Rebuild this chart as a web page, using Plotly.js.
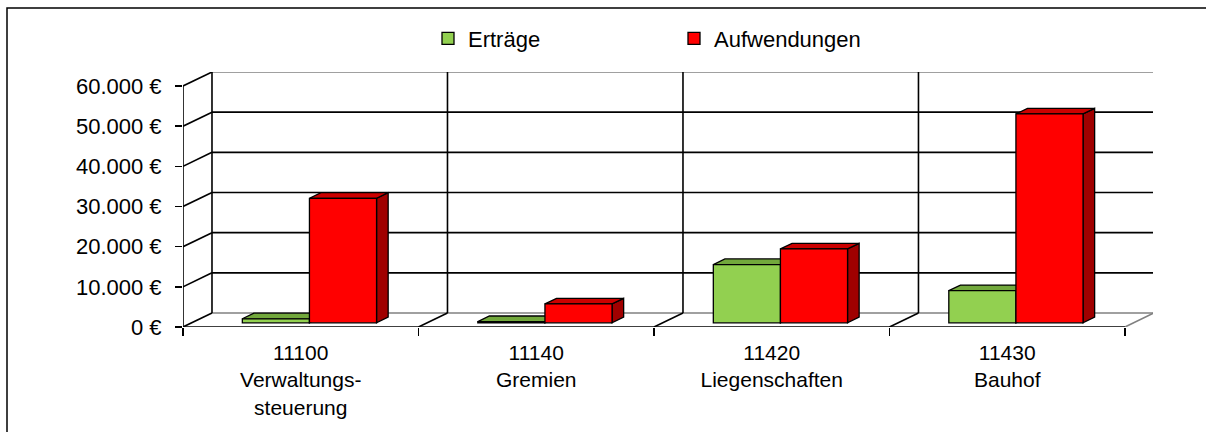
<!DOCTYPE html>
<html>
<head>
<meta charset="utf-8">
<script src="https://cdn.plot.ly/plotly-3.0.1.min.js"></script>
<style>html,body{margin:0;padding:0;background:#fff;}#chart{width:1206px;height:432px;}</style>
</head>
<body>
<div id="chart"></div>
<script>
// ---- data ----
const categories = ['11100<br>Verwaltungs-<br>steuerung', '11140<br>Gremien', '11420<br>Liegenschaften', '11430<br>Bauhof'];
const seriesNames = ['Erträge', 'Aufwendungen'];
const ertraege = [1000, 300, 14500, 8000];
const aufwendungen = [31000, 4700, 18400, 52000];
const yTickValues = [0, 10000, 20000, 30000, 40000, 50000, 60000];
const yTickLabels = ['0 €', '10.000 €', '20.000 €', '30.000 €', '40.000 €', '50.000 €', '60.000 €'];

// ---- geometry / style (not data) ----
const FONT = 'Liberation Sans, Arial, sans-serif';
const DX = 0.1231;      // floor depth in x units
const DY = 3486;        // floor depth in y units
const BAR_FRONT = 0.3;  // fraction of depth where bar front faces sit
const BAR_DEPTH = 0.4;  // fraction of depth taken by the bars
const BARGAP = 0.43;
const XMIN = -0.5, XMAX = 3.619, YMAX = 63486;
const n = categories.length;
const idx = categories.map((_, i) => i);
const colors = {
  front: ['#92D050', '#FF0000'],
  top: ['#72A83C', '#CC0000'],
  side: ['#5E8C2E', '#A00000']
};

const shapes = [];
function line(x0, y0, x1, y1, color, width) {
  shapes.push({type: 'line', xref: 'x', yref: 'y', x0, y0, x1, y1,
    line: {color, width}, layer: 'below'});
}
const GREY = '#808080', BLACK = '#000000';
const gMax = yTickValues[yTickValues.length - 1];
// back wall horizontal lines and left wall diagonals
yTickValues.forEach(v => {
  const c = (v === 0 || v === gMax) ? GREY : BLACK;
  line(XMIN + DX, v + DY, 3.5 + DX, v + DY, c, 1.6);
  line(XMIN, v, XMIN + DX, v + DY, BLACK, 1.6);
});
// back-left vertical edge, front axis line
line(XMIN + DX, DY, XMIN + DX, gMax + DY, BLACK, 1.6);
line(XMIN, 0, XMIN, gMax, BLACK, 1.6);
// category dividers on back wall and floor
for (let b = 0.5; b < n - 0.5; b += 1) {
  line(b + DX, DY, b + DX, gMax + DY, BLACK, 1.6);
  line(b, 0, b + DX, DY, BLACK, 1.6);
}
// right edges
line(3.5 + DX, DY, 3.5 + DX, gMax + DY, GREY, 1.6);
line(3.5, 0, 3.5 + DX, DY, GREY, 1.6);
// front floor edge
line(XMIN, 0, 3.5, 0, BLACK, 1.6);

// bar 3D faces (top and side), computed from data in the bar axes
const bw = (1 - BARGAP) / 2;
const ddx = BAR_DEPTH * DX, ddy = BAR_DEPTH * DY;
[ertraege, aufwendungen].forEach((vals, s) => {
  vals.forEach((v, i) => {
    const xl = idx[i] - bw + s * bw, xr = xl + bw;
    shapes.push({type: 'path', xref: 'x2', yref: 'y2', layer: 'below',
      path: `M${xr},0 L${xr},${v} L${xr + ddx},${v + ddy} L${xr + ddx},${ddy} Z`,
      fillcolor: colors.side[s], line: {color: BLACK, width: 1.3}});
    shapes.push({type: 'path', xref: 'x2', yref: 'y2', layer: 'below',
      path: `M${xl},${v} L${xr},${v} L${xr + ddx},${v + ddy} L${xl + ddx},${v + ddy} Z`,
      fillcolor: colors.top[s], line: {color: BLACK, width: 1.3}});
  });
});

// outer border (paper)
const L = 183, R = 53, T = 72, B = 105;
const PW = 1206 - L - R, PH = 432 - T - B;
shapes.push({type: 'rect', xref: 'paper', yref: 'paper',
  x0: (7 - L) / PW, x1: (1300 - L) / PW, y0: (PH + T - 500) / PH, y1: (PH + T - 8) / PH,
  line: {color: BLACK, width: 1.5}, fillcolor: 'rgba(0,0,0,0)', layer: 'below'});

const traces = [ertraege, aufwendungen].map((vals, s) => ({
  type: 'bar', name: seriesNames[s], x: idx, y: vals, xaxis: 'x2', yaxis: 'y2',
  marker: {color: colors.front[s], line: {color: BLACK, width: 1.3}},
  hoverinfo: 'skip'
}));

const layout = {
  width: 1206, height: 432,
  margin: {l: L, r: R, t: T, b: B, pad: 0},
  paper_bgcolor: '#ffffff', plot_bgcolor: 'rgba(0,0,0,0)',
  font: {family: FONT, size: 22, color: '#000'},
  barmode: 'group', bargap: BARGAP, bargroupgap: 0,
  showlegend: true,
  legend: {orientation: 'h', x: (428 - L) / PW, xanchor: 'left', y: (PH + T - 38.5) / PH, yanchor: 'middle',
    font: {family: FONT, size: 22, color: '#000'}, entrywidth: 201, itemwidth: 30, bgcolor: 'rgba(0,0,0,0)'},
  xaxis: {range: [XMIN, XMAX], tickvals: idx, ticktext: categories, ticks: '', showgrid: false,
    zeroline: false, showline: false, tickfont: {family: FONT, size: 21, color: '#000'},
    ticklabelstandoff: 11,
    minor: {tick0: 0.5, dtick: 1, ticks: 'outside', ticklen: 8, tickcolor: BLACK, tickwidth: 1.5, showgrid: false}},
  yaxis: {range: [0, YMAX], tickvals: yTickValues, ticktext: yTickLabels, ticks: 'outside', ticklen: 7,
    tickwidth: 1.5, tickcolor: BLACK, showgrid: false, zeroline: false, showline: false,
    tickfont: {family: FONT, size: 22, color: '#000'}, ticklabelstandoff: 9},
  xaxis2: {overlaying: 'x', range: [XMIN - BAR_FRONT * DX, XMAX - BAR_FRONT * DX], visible: false},
  yaxis2: {overlaying: 'y', range: [-BAR_FRONT * DY, YMAX - BAR_FRONT * DY], visible: false},
  shapes: shapes,
  hovermode: false
};

Plotly.newPlot('chart', traces, layout, {staticPlot: true, displayModeBar: false});
</script>
</body>
</html>
